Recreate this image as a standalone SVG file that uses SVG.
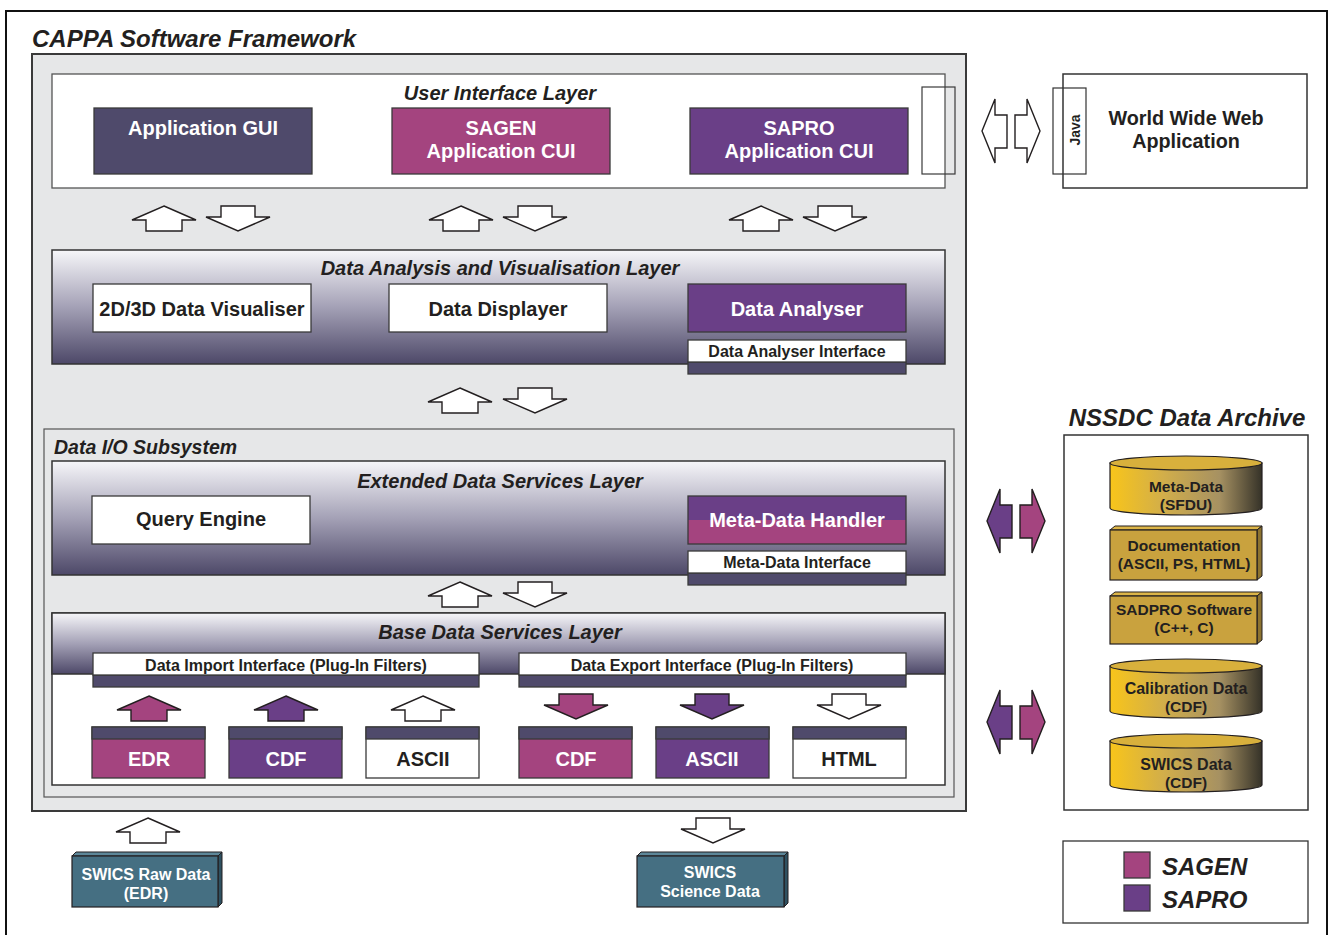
<svg xmlns="http://www.w3.org/2000/svg" xmlns:xlink="http://www.w3.org/1999/xlink" width="1333" height="935" viewBox="0 0 1333 935">
<style>
text{font-family:"Liberation Sans",Arial,sans-serif;font-weight:bold;fill:#231f20}
.ttl{font-style:italic;font-size:24px}
.lay{font-style:italic;font-size:20px;text-anchor:middle}
.w{fill:#fff}
.c{text-anchor:middle}
.big{font-size:20px}
.sm{font-size:16px}
.ar{font-size:15.5px}
.nar{font-size:16px;fill:#fff;text-anchor:middle}
.edge{stroke:#3a3a3a;stroke-width:1.3}
.wf{fill:#fff}
.mag{fill:#a4447f}
.pur{fill:#6a3f87}
.slate{fill:#4f4a6b}
.teal{fill:#456f82}
.arr{stroke:#231f20;stroke-width:1.4;stroke-linejoin:miter}
</style>
<defs>
<linearGradient id="lg" x1="0" y1="0" x2="0" y2="1">
<stop offset="0" stop-color="#f6f6f9"/>
<stop offset="0.5" stop-color="#a4a1b6"/>
<stop offset="1" stop-color="#4d4868"/>
</linearGradient>
<linearGradient id="cyl" x1="0" y1="0" x2="1" y2="0">
<stop offset="0" stop-color="#f8c51a"/>
<stop offset="0.35" stop-color="#d2ae4a"/>
<stop offset="0.72" stop-color="#a69162"/>
<stop offset="1" stop-color="#353228"/>
</linearGradient>
<path id="up" d="M0,0 L32,14 L18,14 L18,25 L-18,25 L-18,14 L-32,14 Z"/>
<path id="dn" d="M-17,0 L17,0 L17,11 L32,11 L0,25 L-32,11 L-17,11 Z"/>
<path id="lt" d="M0,0 L13,-32 L13,-16 L25,-16 L25,17 L13,17 L13,32 Z"/>
<path id="rt" d="M0,0 L-13,-32 L-13,-16 L-25,-16 L-25,17 L-13,17 L-13,32 Z"/>
</defs>

<rect x="6" y="11" width="1321" height="934" fill="#fff" stroke="#111" stroke-width="2"/>

<g id="framework">
<text class="ttl" x="32" y="47">CAPPA Software Framework</text>
<rect x="32" y="54" width="934" height="757" fill="#e6e7e8" stroke="#3a3a3a" stroke-width="2"/>
</g>

<g id="ui-layer">
<rect x="52" y="74" width="893" height="114" class="wf" stroke="#555" stroke-width="1.3"/>
<text class="lay" x="500" y="100">User Interface Layer</text>
<rect x="922" y="87" width="33" height="87" fill="none" stroke="#3a3a3a" stroke-width="1.2"/>
</g>
<g id="app-gui">
<rect x="94" y="108" width="218" height="66" class="slate edge"/>
<text class="c big w" x="203" y="135">Application GUI</text>
</g>
<g id="sagen-cui">
<rect x="392" y="108" width="218" height="66" class="mag edge"/>
<text class="c big w" x="501" y="135">SAGEN</text>
<text class="c big w" x="501" y="158">Application CUI</text>
</g>
<g id="sapro-cui">
<rect x="690" y="108" width="218" height="66" class="pur edge"/>
<text class="c big w" x="799" y="135">SAPRO</text>
<text class="c big w" x="799" y="158">Application CUI</text>
</g>

<g id="analysis-layer">
<rect x="52" y="250" width="893" height="114" fill="url(#lg)" stroke="#333" stroke-width="1.5"/>
<text class="lay" x="500" y="275">Data Analysis and Visualisation Layer</text>
</g>
<g id="visualiser">
<rect x="93" y="284" width="218" height="48" class="wf edge"/>
<text class="c big" x="202" y="316">2D/3D Data Visualiser</text>
</g>
<g id="displayer">
<rect x="389" y="284" width="218" height="48" class="wf edge"/>
<text class="c big" x="498" y="316">Data Displayer</text>
</g>
<g id="analyser">
<rect x="688" y="284" width="218" height="48" class="pur edge"/>
<text class="c big w" x="797" y="316">Data Analyser</text>
<rect x="688" y="362" width="218" height="12" class="slate edge"/>
<rect x="688" y="340" width="218" height="22" class="wf edge"/>
<text class="c sm" x="797" y="357">Data Analyser Interface</text>
</g>

<g id="dataio">
<rect x="44" y="429" width="910" height="368" fill="#e6e7e8" stroke="#555" stroke-width="1.2"/>
<text x="54" y="454" style="font-style:italic;font-size:19.5px">Data I/O Subsystem</text>
</g>
<g id="extended-layer">
<rect x="52" y="461" width="893" height="114" fill="url(#lg)" stroke="#333" stroke-width="1.5"/>
<text class="lay" x="500" y="488">Extended Data Services Layer</text>
</g>
<g id="query">
<rect x="92" y="496" width="218" height="48" class="wf edge"/>
<text class="c big" x="201" y="526">Query Engine</text>
</g>
<g id="metadata-handler">
<rect x="688" y="496" width="218" height="24" class="pur"/>
<rect x="688" y="520" width="218" height="24" class="mag"/>
<rect x="688" y="496" width="218" height="48" fill="none" class="edge"/>
<text class="c big w" x="797" y="527">Meta-Data Handler</text>
<rect x="688" y="573" width="218" height="12" class="slate edge"/>
<rect x="688" y="551" width="218" height="22" class="wf edge"/>
<text class="c sm" x="797" y="568">Meta-Data Interface</text>
</g>

<g id="base-layer">
<rect x="52" y="613" width="893" height="172" class="wf" stroke="#333" stroke-width="1.5"/>
<rect x="52" y="613" width="893" height="61" fill="url(#lg)" stroke="#333" stroke-width="1.5"/>
<text class="lay" x="500" y="639">Base Data Services Layer</text>
</g>
<g id="import-if">
<rect x="93" y="675" width="386" height="12" class="slate edge"/>
<rect x="93" y="653" width="386" height="22" class="wf edge"/>
<text class="c sm" x="286" y="671">Data Import Interface (Plug-In Filters)</text>
</g>
<g id="export-if">
<rect x="519" y="675" width="387" height="12" class="slate edge"/>
<rect x="519" y="653" width="387" height="22" class="wf edge"/>
<text class="c sm" x="712" y="671">Data Export Interface (Plug-In Filters)</text>
</g>
<g id="in-edr">
<rect x="92" y="727" width="113" height="51" class="mag edge"/>
<rect x="92" y="727" width="113" height="12" class="slate edge"/>
<text class="c big w" x="149" y="766">EDR</text>
</g>
<g id="in-cdf">
<rect x="229" y="727" width="113" height="51" class="pur edge"/>
<rect x="229" y="727" width="113" height="12" class="slate edge"/>
<text class="c big w" x="286" y="766">CDF</text>
</g>
<g id="in-ascii">
<rect x="366" y="727" width="113" height="51" class="wf edge"/>
<rect x="366" y="727" width="113" height="12" class="slate edge"/>
<text class="c big" x="423" y="766">ASCII</text>
</g>
<g id="out-cdf">
<rect x="519" y="727" width="113" height="51" class="mag edge"/>
<rect x="519" y="727" width="113" height="12" class="slate edge"/>
<text class="c big w" x="576" y="766">CDF</text>
</g>
<g id="out-ascii">
<rect x="656" y="727" width="113" height="51" class="pur edge"/>
<rect x="656" y="727" width="113" height="12" class="slate edge"/>
<text class="c big w" x="712" y="766">ASCII</text>
</g>
<g id="out-html">
<rect x="793" y="727" width="113" height="51" class="wf edge"/>
<rect x="793" y="727" width="113" height="12" class="slate edge"/>
<text class="c big" x="849" y="766">HTML</text>
</g>

<g id="www">
<rect x="1063" y="74" width="244" height="114" class="wf" stroke="#333" stroke-width="1.5"/>
<rect x="1053" y="88" width="33" height="86" fill="none" stroke="#333" stroke-width="1.2"/>
<text class="c" x="1075" y="130" transform="rotate(-90 1075 130)" dy="5" style="font-size:14px">Java</text>
<text class="c" x="1186" y="125" style="font-size:19.8px">World Wide Web</text>
<text class="c" x="1186" y="148" style="font-size:19.8px">Application</text>
</g>

<g id="nssdc">
<text class="c ttl" x="1187" y="426">NSSDC Data Archive</text>
<rect x="1064" y="435" width="244" height="375" class="wf" stroke="#333" stroke-width="1.5"/>
</g>
<g id="meta-data">
<path d="M1110,463 L1110,508 A76,7 0 0 0 1262,508 L1262,463 Z" fill="url(#cyl)" stroke="#231f20" stroke-width="1.2"/>
<ellipse cx="1186" cy="463" rx="76" ry="7" fill="#d8b03c" stroke="#231f20" stroke-width="1.2"/>
<text class="c ar" x="1186" y="492">Meta-Data</text>
<text class="c ar" x="1186" y="510">(SFDU)</text>
</g>
<g id="documentation">
<polygon points="1110,530 1115,526 1262,526 1257,530" fill="#dcb548" stroke="#231f20" stroke-width="1"/>
<polygon points="1257,530 1262,526 1262,576 1257,580" fill="#8c7330" stroke="#231f20" stroke-width="1"/>
<rect x="1110" y="530" width="147" height="50" fill="#c9a23e" stroke="#231f20" stroke-width="1.2"/>
<text class="c ar" x="1184" y="551">Documentation</text>
<text class="c ar" x="1184" y="569">(ASCII, PS, HTML)</text>
</g>
<g id="sadpro">
<polygon points="1110,596 1115,592 1262,592 1257,596" fill="#dcb548" stroke="#231f20" stroke-width="1"/>
<polygon points="1257,596 1262,592 1262,640 1257,644" fill="#8c7330" stroke="#231f20" stroke-width="1"/>
<rect x="1110" y="596" width="147" height="48" fill="#c9a23e" stroke="#231f20" stroke-width="1.2"/>
<text class="c ar" x="1184" y="615">SADPRO Software</text>
<text class="c ar" x="1184" y="633">(C++, C)</text>
</g>
<g id="calibration">
<path d="M1110,666 L1110,711 A76,7 0 0 0 1262,711 L1262,666 Z" fill="url(#cyl)" stroke="#231f20" stroke-width="1.2"/>
<ellipse cx="1186" cy="666" rx="76" ry="7" fill="#d8b03c" stroke="#231f20" stroke-width="1.2"/>
<text class="c" x="1186" y="694" style="font-size:16px">Calibration Data</text>
<text class="c ar" x="1186" y="712">(CDF)</text>
</g>
<g id="swics-data">
<path d="M1110,741 L1110,785 A76,7 0 0 0 1262,785 L1262,741 Z" fill="url(#cyl)" stroke="#231f20" stroke-width="1.2"/>
<ellipse cx="1186" cy="741" rx="76" ry="7" fill="#d8b03c" stroke="#231f20" stroke-width="1.2"/>
<text class="c" x="1186" y="770" style="font-size:16px">SWICS Data</text>
<text class="c ar" x="1186" y="788">(CDF)</text>
</g>

<g id="swics-raw">
<polygon points="72,856 76,852 222,852 218,856" fill="#5d8799" stroke="#231f20" stroke-width="1"/>
<polygon points="218,856 222,852 222,903 218,907" fill="#2f5161" stroke="#231f20" stroke-width="1"/>
<rect x="72" y="856" width="146" height="51" class="teal" stroke="#231f20" stroke-width="1.2"/>
<text class="nar" x="146" y="880">SWICS Raw Data</text>
<text class="nar" x="146" y="899">(EDR)</text>
</g>
<g id="swics-science">
<polygon points="637,856 641,852 788,852 784,856" fill="#5d8799" stroke="#231f20" stroke-width="1"/>
<polygon points="784,856 788,852 788,903 784,907" fill="#2f5161" stroke="#231f20" stroke-width="1"/>
<rect x="637" y="856" width="147" height="51" class="teal" stroke="#231f20" stroke-width="1.2"/>
<text class="nar" x="710" y="878">SWICS</text>
<text class="nar" x="710" y="897">Science Data</text>
</g>

<g id="legend">
<rect x="1063" y="841" width="245" height="82" class="wf" stroke="#333" stroke-width="1.3"/>
<rect x="1124" y="852" width="26" height="26" class="mag edge"/>
<rect x="1124" y="885" width="26" height="26" class="pur edge"/>
<text x="1162" y="875" style="font-style:italic;font-size:24px">SAGEN</text>
<text x="1162" y="908" style="font-style:italic;font-size:24px">SAPRO</text>
</g>

<g id="connectors">
<use href="#up" x="164" y="206" class="arr" fill="#fff"/>
<use href="#dn" x="238" y="206" class="arr" fill="#fff"/>
<use href="#up" x="461" y="206" class="arr" fill="#fff"/>
<use href="#dn" x="535" y="206" class="arr" fill="#fff"/>
<use href="#up" x="761" y="206" class="arr" fill="#fff"/>
<use href="#dn" x="835" y="206" class="arr" fill="#fff"/>
<use href="#up" x="460" y="388" class="arr" fill="#fff"/>
<use href="#dn" x="535" y="388" class="arr" fill="#fff"/>
<use href="#up" x="460" y="582" class="arr" fill="#fff"/>
<use href="#dn" x="535" y="582" class="arr" fill="#fff"/>
<use href="#up" x="149" y="696" class="arr" fill="#a4447f"/>
<use href="#up" x="286" y="696" class="arr" fill="#6a3f87"/>
<use href="#up" x="423" y="696" class="arr" fill="#fff"/>
<use href="#dn" x="576" y="694" class="arr" fill="#a4447f"/>
<use href="#dn" x="712" y="694" class="arr" fill="#6a3f87"/>
<use href="#dn" x="849" y="694" class="arr" fill="#fff"/>
<use href="#up" x="148" y="818" class="arr" fill="#fff"/>
<use href="#dn" x="713" y="818" class="arr" fill="#fff"/>
<use href="#lt" x="982" y="131" class="arr" fill="#fff"/>
<use href="#rt" x="1040" y="131" class="arr" fill="#fff"/>
<use href="#lt" x="987" y="521" class="arr" fill="#6a3f87"/>
<use href="#rt" x="1045" y="521" class="arr" fill="#a4447f"/>
<use href="#lt" x="987" y="722" class="arr" fill="#6a3f87"/>
<use href="#rt" x="1045" y="722" class="arr" fill="#a4447f"/>
</g>
</svg>
